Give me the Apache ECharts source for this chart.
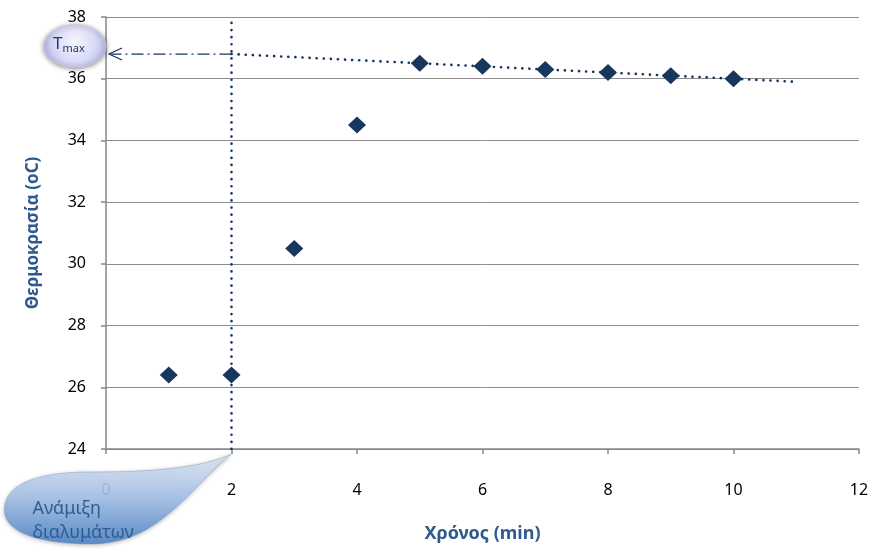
<!DOCTYPE html>
<html>
<head>
<meta charset="utf-8">
<script src="https://cdn.jsdelivr.net/npm/echarts@6/dist/echarts.min.js"></script>
<style>html,body{margin:0;padding:0;background:#fff}#c{width:877px;height:551px}</style>
</head>
<body>
<div id="c"></div>
<script>
// ---- data ----
const timeMin = [1, 2, 3, 4, 5, 6, 7, 8, 9, 10];
const tempC = [26.4, 26.4, 30.5, 34.5, 36.5, 36.4, 36.3, 36.2, 36.1, 36.0];
const trendX = [2, 11];
const trendY = [36.8, 35.9];
const mixX = [2, 2];
const mixY = [24, 38];
const tmaxLevel = 36.8;
const xTicks = [0, 2, 4, 6, 8, 10, 12];
const yTicks = [24, 26, 28, 30, 32, 34, 36, 38];
const xTitle = 'Χρόνος (min)';
const yTitle = 'Θερμοκρασία (oC)';
const calloutLines = ['Ανάμιξη', 'διαλυμάτων'];

const navy = '#17375E';
const titleBlue = '#2E5A8F';
const font = 'Noto Sans';

const chart = echarts.init(document.getElementById('c'), null, {renderer: 'canvas'});
const option = {
  animation: false,
  backgroundColor: '#fff',
  grid: {left: 106, right: 18, top: 17, bottom: 102},
  xAxis: {
    type: 'value', min: xTicks[0], max: xTicks[xTicks.length - 1], interval: 2,
    axisLine: {onZero: false, lineStyle: {color: '#868686', width: 1.5}},
    axisTick: {show: true, length: 5, lineStyle: {color: '#868686', width: 1.5}},
    axisLabel: {margin: 33, fontSize: 16, color: '#000', fontFamily: font},
    splitLine: {show: false},
    name: xTitle, nameLocation: 'middle', nameGap: 76,
    nameTextStyle: {fontSize: 18, fontWeight: 'bold', color: titleBlue, fontFamily: font}
  },
  yAxis: {
    type: 'value', min: yTicks[0], max: yTicks[yTicks.length - 1], interval: 2,
    axisLine: {show: true, onZero: false, lineStyle: {color: '#868686', width: 1.5}},
    axisTick: {show: true, length: 5, lineStyle: {color: '#868686', width: 1.5}},
    axisLabel: {margin: 20, fontSize: 16, color: '#000', fontFamily: font},
    splitLine: {show: true, lineStyle: {color: '#8c8c8c', width: 1}},
    name: yTitle, nameLocation: 'middle', nameGap: 64,
    nameTextStyle: {fontSize: 17, fontWeight: 'bold', color: titleBlue, fontFamily: font}
  },
  series: [
    {
      type: 'line', data: mixX.map((x, i) => [x, mixY[i]]), symbol: 'none', silent: true,
      lineStyle: {color: navy, width: 2.6, type: [0.1, 7], cap: 'round'}, z: 2
    },
    {
      type: 'line', data: trendX.map((x, i) => [x, trendY[i]]), symbol: 'none', silent: true,
      lineStyle: {color: navy, width: 2.6, type: [0.1, 7], cap: 'round'}, z: 2
    },
    {
      type: 'scatter', data: timeMin.map((x, i) => [x, tempC[i]]),
      symbol: 'diamond', symbolSize: [18, 17], itemStyle: {color: navy, opacity: 1}, z: 5
    }
  ]
};
chart.setOption(option);

// annotations positioned through the chart's own coordinate system
const a0 = chart.convertToPixel({gridIndex: 0}, [trendX[0], tmaxLevel]);
const a1 = chart.convertToPixel({gridIndex: 0}, [xTicks[0], tmaxLevel]);
const axisEnd = chart.convertToPixel({gridIndex: 0}, [mixX[0], mixY[0]]);
const tail = [axisEnd[0], axisEnd[1] + 5];
const ax = a1[0] + 3, ay = a1[1];
const bx = ax - 34, by = ay - 8;

// sample cubic bezier outline of the callout (relative to its tail)
function bezierOutline(start, segs, n) {
  const pts = [start];
  let p0 = start;
  segs.forEach(s => {
    const [c1, c2, p3] = s;
    for (let i = 1; i <= n; i++) {
      const t = i / n, u = 1 - t;
      pts.push([
        u*u*u*p0[0] + 3*u*u*t*c1[0] + 3*u*t*t*c2[0] + t*t*t*p3[0],
        u*u*u*p0[1] + 3*u*u*t*c1[1] + 3*u*t*t*c2[1] + t*t*t*p3[1]
      ]);
    }
    p0 = p3;
  });
  return pts;
}
const calloutPts = bezierOutline([0, 0], [
  [[-40, 30], [-70, 90], [-140, 90]],
  [[-198, 90], [-229, 76], [-227, 54]],
  [[-225, 28], [-190, 18], [-140, 18]],
  [[-80, 18], [-30, 14], [0, 0]]
], 24).map(p => [p[0] + tail[0], p[1] + tail[1]]);

chart.setOption({
  graphic: [
    // dash-dot arrow to Tmax
    {type: 'line', shape: {x1: a0[0], y1: a0[1], x2: ax + 1, y2: ay}, z: 10,
     style: {stroke: navy, lineWidth: 1.2, lineDash: [12, 4, 2, 4]}},
    {type: 'polyline', shape: {points: [[ax + 13, ay - 6], [ax, ay], [ax + 13, ay + 6]]}, z: 10,
     style: {stroke: navy, lineWidth: 1.2, fill: 'none'}},
    // Tmax bubble
    {type: 'ellipse', shape: {cx: bx, cy: by, rx: 31, ry: 21}, z: 10,
     style: {
       fill: new echarts.graphic.RadialGradient(0.5, 0.4, 0.8, [
         {offset: 0, color: '#f6f6ff'}, {offset: 0.6, color: '#d8d9f6'}, {offset: 1, color: '#aeb1e6'}
       ]),
       stroke: '#c9c9dc', lineWidth: 1, shadowBlur: 5, shadowColor: 'rgba(0,0,0,0.45)', shadowOffsetY: 1
     }},
    {type: 'text', x: bx - 22, y: by - 12, z: 11,
     style: {text: '{a|T}{b|max}', rich: {
       a: {fontSize: 17, fill: '#1F3864', fontFamily: font},
       b: {fontSize: 11, fill: '#1F3864', fontFamily: font, padding: [9, 0, 0, 0]}
     }}},
    // mixing callout
    {type: 'polygon', shape: {points: calloutPts}, z: 10,
     style: {
       fill: new echarts.graphic.LinearGradient(0, 0, 0, 1, [
         {offset: 0, color: '#e3ecf9'}, {offset: 0.45, color: '#a9c6ec'}, {offset: 1, color: '#4c82c6'}
       ]),
       opacity: 0.88, stroke: 'rgba(120,150,200,0.5)', lineWidth: 1,
       shadowBlur: 4, shadowColor: 'rgba(0,0,0,0.3)', shadowOffsetY: 1
     }},
    {type: 'text', x: tail[0] - 199, y: tail[1] + 55, z: 11,
     style: {text: calloutLines[0], fontSize: 18, fill: '#2d5d94', fontFamily: font, verticalAlign: 'middle'}},
    {type: 'text', x: tail[0] - 199, y: tail[1] + 79, z: 11,
     style: {text: calloutLines[1], fontSize: 18, fill: '#2d5d94', fontFamily: font, verticalAlign: 'middle'}}
  ]
});
</script>
</body>
</html>
